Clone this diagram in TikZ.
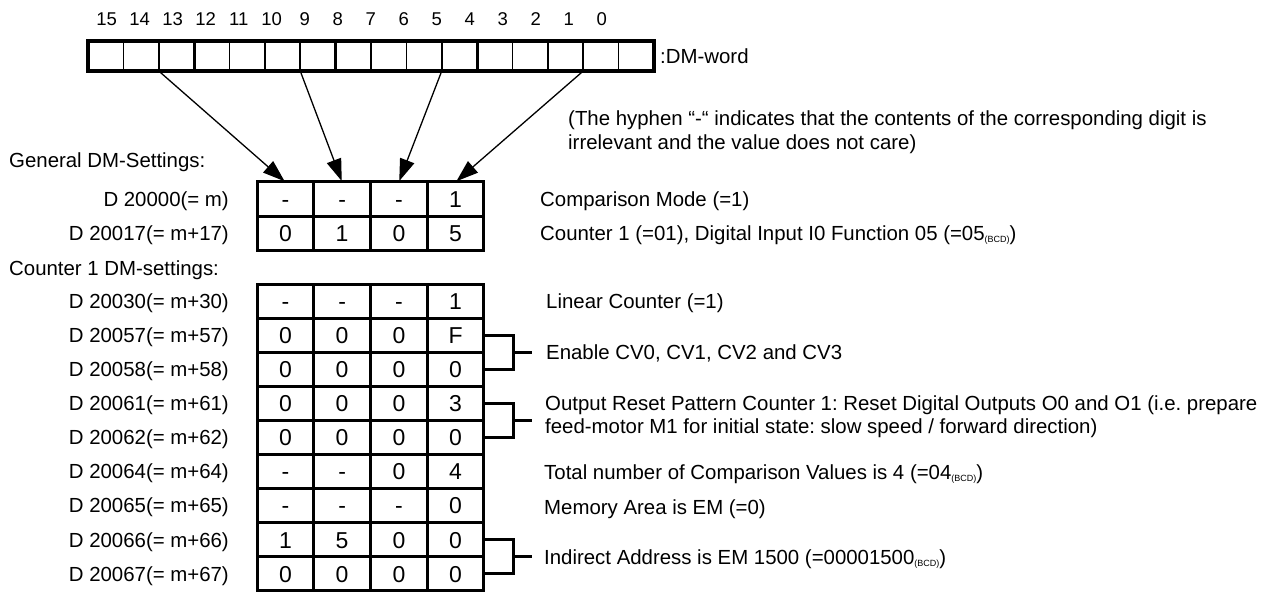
\documentclass[tikz,border=0pt]{standalone}
\usepackage{fontspec}
\setmainfont{Liberation Sans}
\usetikzlibrary{arrows.meta,calc}
\frenchspacing
\newcommand\bcdsub{\raisebox{-2.5pt}{\fontsize{9}{9}\selectfont(BCD)}}
\begin{document}
\begin{tikzpicture}[x=1pt,y=-1pt,
  lbl/.style={font=\fontsize{20.4}{24}\selectfont, inner sep=0pt, text height=14.6pt, text depth=0pt},
  rtxt/.style={lbl, anchor=west},
  ltxt/.style={lbl, anchor=east},
  bitlbl/.style={font=\fontsize{18.5}{20}\selectfont, inner sep=0pt},
  regcell/.style={draw, line width=1.6pt, minimum width=35.375pt, minimum height=30pt, inner sep=0pt, outer sep=0pt},
  cell/.style={draw, line width=3pt, minimum width=56.75pt, minimum height=34.1pt, inner sep=0pt, outer sep=0pt,
     font=\fontsize{23}{23}\selectfont, text height=16.5pt, text depth=0pt},
  ptr/.style={line width=1.3pt, -{Triangle[length=22pt,width=15pt]}, shorten >=1pt},
  brk/.style={line width=3pt, line join=miter},
]
\useasboundingbox (0,0) rectangle (1287,592);

% ---- DM word register ----
\foreach \i in {0,...,15} {
  \pgfmathtruncatemacro\b{15-\i}
  \node[regcell] (r\b) at ({88+35.375*(\i+0.5)},56) {};
  \node[bitlbl] (b\b) at ({106.7+33*\i},19) {\b};
}
\draw[line width=3.3pt] (r15.north west) rectangle (r0.south east);
\foreach \k in {12,8,4} \draw[line width=2.8pt] (r\k.north west) -- (r\k.south west);
\node[rtxt] (dmword) at (660,56) {:DM-word};

% ---- note ----
\node[rtxt] (note1) at (568,118) {(The hyphen “-“ indicates that the contents of the corresponding digit is};
\node[rtxt] (note2) at (568,142) {irrelevant and the value does not care)};

% ---- General DM settings ----
\node[rtxt] (gen) at (9,160) {General DM-Settings:};
\foreach \r/\yc/\a/\b/\c/\d in {0/199/-/-/-/1, 1/233.1/0/1/0/5} {
  \node[cell] (g\r-0) at (285.4,\yc) {\a};
  \node[cell] (g\r-1) at (342.1,\yc) {\b};
  \node[cell] (g\r-2) at (398.9,\yc) {\c};
  \node[cell] (g\r-3) at (455.6,\yc) {\d};
}
\node[ltxt] (lg0) at (229,199) {D 20000(= m)};
\node[ltxt] (lg1) at (229,233.1) {D 20017(= m+17)};
\node[rtxt] (tg0) at (540,199) {Comparison Mode (=1)};
\node[rtxt] (tg1) at (540,233.1) {Counter 1 (=01), Digital Input I0 Function 05 (=05\bcdsub)};

% arrows from register to general table
\draw[ptr] (r14.south east) -- (g0-0.north);
\draw[ptr] (r10.south east) -- (g0-1.north);
\draw[ptr] (r6.south east) -- (g0-2.north);
\draw[ptr] (r2.south east) -- (g0-3.north);

% ---- Counter 1 DM settings ----
\node[rtxt] (cnt) at (9,268) {Counter 1 DM-settings:};
\foreach \r/\a/\b/\c/\d/\lab in {
  0/-/-/-/1/D 20030(= m+30),
  1/0/0/0/F/D 20057(= m+57),
  2/0/0/0/0/D 20058(= m+58),
  3/0/0/0/3/D 20061(= m+61),
  4/0/0/0/0/D 20062(= m+62),
  5/-/-/0/4/D 20064(= m+64),
  6/-/-/-/0/D 20065(= m+65),
  7/1/5/0/0/D 20066(= m+66),
  8/0/0/0/0/D 20067(= m+67)} {
  \pgfmathsetmacro\yc{284+34.1*(\r+0.5)}
  \node[cell] (c\r-0) at (285.4,\yc) {\a};
  \node[cell] (c\r-1) at (342.1,\yc) {\b};
  \node[cell] (c\r-2) at (398.9,\yc) {\c};
  \node[cell] (c\r-3) at (455.6,\yc) {\d};
  \node[ltxt] (lc\r) at (229,\yc) {\lab};
}

\node[rtxt] (t0) at (546,301) {Linear Counter (=1)};
\node[rtxt] (t12) at (546,352.2) {Enable CV0, CV1, CV2 and CV3};
\node[rtxt] (t34a) at (545,403) {Output Reset Pattern Counter 1: Reset Digital Outputs O0 and O1 (i.e. prepare};
\node[rtxt] (t34b) at (545,426) {feed-motor M1 for initial state: slow speed / forward direction)};
\node[rtxt] (t5) at (544,472) {Total number of Comparison Values is 4 (=04\bcdsub)};
\node[rtxt] (t6) at (544,507) {Memory Area is EM (=0)};
\node[rtxt] (t78) at (544,557) {Indirect Address is EM 1500 (=00001500\bcdsub)};

% brackets
\foreach \p/\q/\n in {1/2/1, 3/4/2, 7/8/3} {
  \draw[brk] (c\p-3.east) -- ($(c\p-3.east)+(30,0)$) |- (c\q-3.east);
  \coordinate (m\n) at ($(c\p-3.east)!0.5!(c\q-3.east)+(30,0)$);
  \coordinate (k\n) at ($(m\n)+(18,0)$);
  \draw[brk] (m\n) -- (k\n);
}
\end{tikzpicture}
\end{document}
